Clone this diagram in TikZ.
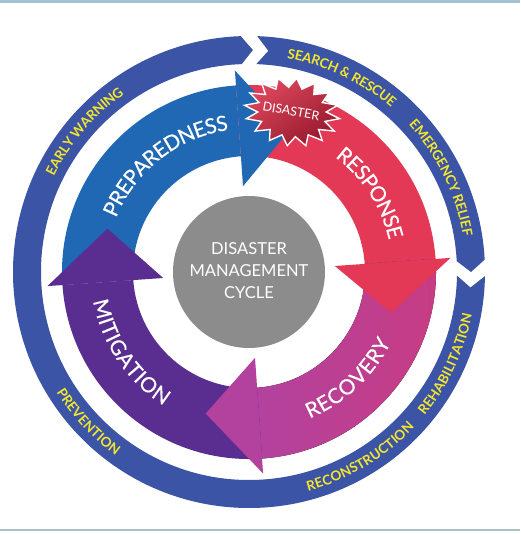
\documentclass[tikz,border=0pt]{standalone}
\usepackage{fontspec}
\setmainfont{Lato}
\newfontfamily\innerfam[FakeBold=0.35]{Lato}
\usetikzlibrary{decorations.text}
\definecolor{ringblue}{RGB}{59,84,165}
\definecolor{prepblue}{RGB}{32,103,180}
\definecolor{respred}{RGB}{228,57,86}
\definecolor{recovA}{RGB}{178,66,158}
\definecolor{recovB}{RGB}{200,60,130}
\definecolor{mitpurple}{RGB}{90,46,145}
\definecolor{cyclegray}{RGB}{141,140,140}
\definecolor{labelyellow}{RGB}{244,230,45}
\definecolor{starlight}{RGB}{222,72,92}
\definecolor{stardark}{RGB}{150,25,45}
\definecolor{framebar}{RGB}{163,193,207}
\definecolor{frameline}{RGB}{170,190,200}
\newcommand{\innerfont}{\innerfam\fontsize{21}{21}\selectfont\color{white}}
\newcommand{\outerfont}{\bfseries\fontsize{13.5}{13.5}\selectfont\color{labelyellow}}
\begin{document}
\begin{tikzpicture}[x=1pt,y=1pt,
  innertext/.style={decorate,decoration={text along path,text align=center,raise=-7.5pt,text={|\innerfont|#1}}},
  outertext/.style={decorate,decoration={text along path,text align=center,raise=-4.9pt,text={|\outerfont|#1}}}]
\useasboundingbox (-249,-262) rectangle (271,272);
% frame
\fill[framebar] (-249,269) rectangle (271,272);
\fill[frameline] (-249,-257) rectangle (271,-259);
% outer ring segments
\fill[ringblue] (88:236) arc[start angle=88,end angle=3,radius=236] -- (0:222) -- (3:208)
  arc[start angle=3,end angle=88,radius=208] -- (85:222) -- cycle;
\fill[ringblue] (-1:236) arc[start angle=-1,end angle=-268,radius=236] -- (-271:222) -- (-268:208)
  arc[start angle=-268,end angle=-1,radius=208] -- (-4:222) -- cycle;
% arrow bodies
\fill[prepblue] (184:187) arc[start angle=184,end angle=94,radius=187] -- (94:116)
  arc[start angle=94,end angle=184,radius=116] -- cycle;
\fill[respred] (94:187) arc[start angle=94,end angle=4,radius=187] -- (4:116)
  arc[start angle=4,end angle=94,radius=116] -- cycle;
\fill[left color=recovA,right color=recovB] (4:187) arc[start angle=4,end angle=-86,radius=187] -- (-86:116)
  arc[start angle=-86,end angle=4,radius=116] -- cycle;
\fill[mitpurple] (-86:187) arc[start angle=-86,end angle=-176,radius=187] -- (-176:116)
  arc[start angle=-176,end angle=-86,radius=116] -- cycle;
% arrow heads
\fill[prepblue] (94:86) -- (74:148) -- (94:202) -- cycle;
\fill[respred] (4:86) -- (-16:148) -- (4:202) -- cycle;
\fill[recovA] (-86:86) -- (-107:148) -- (-86:202) -- cycle;
\fill[mitpurple] (184:86) -- (163:148) -- (184:202) -- cycle;
% disaster star
\begin{scope}[shift={(43,160)},rotate=-8]
\path[top color=starlight,bottom color=stardark,shading angle=35,draw=white,line width=1.4]
  plot[samples at={0,...,31},variable=\k]
  ({(isodd(\k)?0.72:1)*48*cos(\k*11.25)},{(isodd(\k)?0.72:1)*34*sin(\k*11.25)}) -- cycle;
\end{scope}
\node[text=white,font=\fontsize{12.5}{12.5}\selectfont,rotate=-10] (disaster) at (42,161) {DISASTER};
% centre
\fill[cyclegray] (0,0) circle[radius=76];
\node[text=white,align=center,font=\fontsize{16.5}{22}\selectfont] (centre) at (0,1)
  {DISASTER\\MANAGEMENT\\CYCLE};
% inner labels
\path[innertext=PREPAREDNESS] (178:151) arc[start angle=178,end angle=78,radius=151];
\path[innertext=RESPONSE] (83:151) arc[start angle=83,end angle=-17,radius=151];
\path[innertext=RECOVERY] (-97:151) arc[start angle=-97,end angle=3,radius=151];
\path[innertext=MITIGATION] (164:151) arc[start angle=164,end angle=264,radius=151];
% outer labels
\path[outertext={EARLY WARNING}] (189.5:222) arc[start angle=189.5,end angle=89.5,radius=222];
\path[outertext={SEARCH {\&} RESCUE}] (114.5:222) arc[start angle=114.5,end angle=14.5,radius=222];
\path[outertext={EMERGENCY RELIEF}] (76:222) arc[start angle=76,end angle=-24,radius=222];
\path[outertext=REHABILITATION] (-75:222) arc[start angle=-75,end angle=25,radius=222];
\path[outertext=RECONSTRUCTION] (-109:222) arc[start angle=-109,end angle=-9,radius=222];
\path[outertext=PREVENTION] (173:222) arc[start angle=173,end angle=273,radius=222];
\end{tikzpicture}
\end{document}
